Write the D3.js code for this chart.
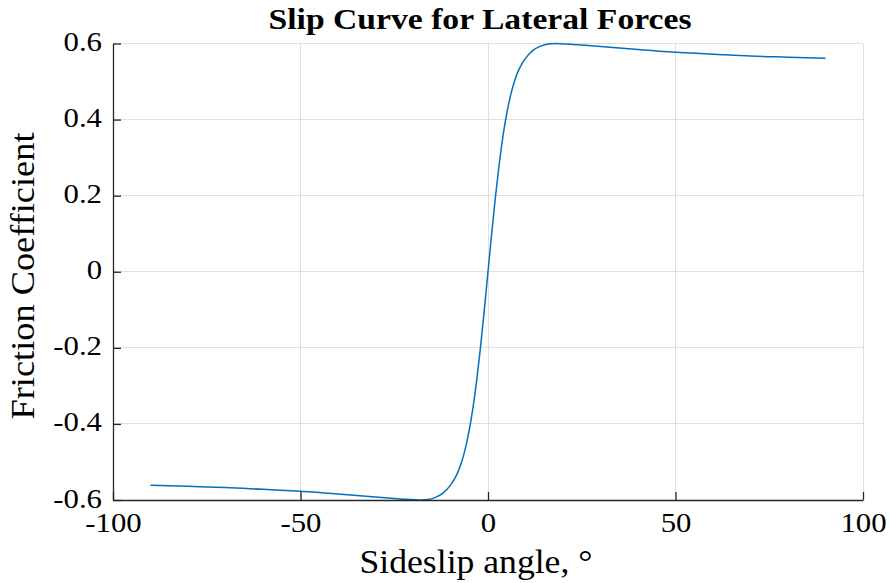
<!DOCTYPE html>
<html>
<head>
<meta charset="utf-8">
<script src="https://cdn.jsdelivr.net/npm/d3@7"></script>
<style>
  html, body { margin: 0; padding: 0; background: #ffffff; }
  svg { display: block; }
  text { font-family: "Liberation Serif", "Times New Roman", serif; fill: #000; }
</style>
</head>
<body>
<svg id="chart" width="890" height="583"></svg>
<script>
// ---- data ----
const angle = [-90, -80, -70, -60, -50, -45, -40, -35, -30, -25, -22, -20, -18, -16, -14, -12, -10, -9, -8, -7, -6, -5, -4, -3, -2, -1,
               0, 1, 2, 3, 4, 5, 6, 7, 8, 9, 10, 12, 14, 16, 18, 20, 22, 25, 30, 35, 40, 45, 50, 60, 70, 80, 90];
const friction = [-0.561, -0.564, -0.567, -0.572, -0.577, -0.580, -0.584, -0.588, -0.592, -0.596, -0.598, -0.599, -0.600, -0.599, -0.593, -0.582, -0.561, -0.546, -0.526, -0.499, -0.463, -0.416, -0.357, -0.284, -0.198, -0.102,
                  0, 0.102, 0.198, 0.284, 0.357, 0.416, 0.463, 0.499, 0.526, 0.546, 0.561, 0.582, 0.593, 0.599, 0.600, 0.599, 0.598, 0.596, 0.592, 0.588, 0.584, 0.580, 0.577, 0.572, 0.567, 0.564, 0.561];
const xTicks = [-100, -50, 0, 50, 100];
const xTickLabels = ["-100", "-50", "0", "50", "100"];
const yTicks = [-0.6, -0.4, -0.2, 0, 0.2, 0.4, 0.6];
const yTickLabels = ["-0.6", "-0.4", "-0.2", "0", "0.2", "0.4", "0.6"];
const titleText = "Slip Curve for Lateral Forces";
const xLabelText = "Sideslip angle, \u00B0";
const yLabelText = "Friction Coefficient";

// ---- layout ----
const svg = d3.select("#chart");
const L = 113, R = 863, T = 43.5, B = 500;
const x = d3.scaleLinear().domain([-100, 100]).range([L, R]);
const y = d3.scaleLinear().domain([-0.6, 0.6]).range([B, T]);
const STRETCH = 1.14;

function stretch(sel, k) {
  sel.each(function () {
    const len = this.getComputedTextLength();
    d3.select(this).attr("textLength", len * k).attr("lengthAdjust", "spacingAndGlyphs");
  });
}

// grid
const grid = svg.append("g");
grid.selectAll("line.gx").data(xTicks).join("line")
  .attr("x1", d => x(d)).attr("x2", d => x(d))
  .attr("y1", T).attr("y2", B)
  .attr("stroke", "#dfdfdf").attr("stroke-width", 1).attr("shape-rendering", "crispEdges");
grid.selectAll("line.gy").data(yTicks).join("line")
  .attr("x1", L).attr("x2", R)
  .attr("y1", d => y(d)).attr("y2", d => y(d))
  .attr("stroke", "#dfdfdf").attr("stroke-width", 1).attr("shape-rendering", "crispEdges");

// curve
const line = d3.line()
  .x((d, i) => x(angle[i]))
  .y(d => y(d))
  .curve(d3.curveMonotoneX);
svg.append("path")
  .datum(friction)
  .attr("d", line)
  .attr("fill", "none")
  .attr("stroke", "#0072BD")
  .attr("stroke-width", 1.5);

// axes (inward ticks)
const xAxis = d3.axisBottom(x).tickValues(xTicks).tickSizeInner(-8).tickSizeOuter(0)
  .tickFormat((d, i) => xTickLabels[i]);
const gx = svg.append("g").attr("transform", `translate(0,${B})`).call(xAxis);
const yAxis = d3.axisLeft(y).tickValues(yTicks).tickSizeInner(-8).tickSizeOuter(0)
  .tickFormat((d, i) => yTickLabels[i]);
const gy = svg.append("g").attr("transform", `translate(${L},0)`).call(yAxis);

[gx, gy].forEach(g => {
  g.select(".domain").attr("stroke", "#262626").attr("stroke-width", 1.3);
  g.selectAll(".tick line").attr("stroke", "#262626").attr("stroke-width", 1.3);
  g.selectAll(".tick text")
    .style("font-family", '"Liberation Serif", serif')
    .attr("font-size", 27).attr("fill", "#000");
});
gx.selectAll(".tick text").attr("y", 32).attr("dy", 0).attr("text-anchor", "middle");
gy.selectAll(".tick text").attr("x", -11).attr("dy", 7).attr("text-anchor", "end");
gx.selectAll(".tick text").call(stretch, STRETCH);
gy.selectAll(".tick text").call(stretch, STRETCH);

// title
svg.append("text")
  .attr("x", 480).attr("y", 29)
  .attr("text-anchor", "middle")
  .attr("font-size", 30).attr("font-weight", "bold")
  .text(titleText)
  .attr("textLength", 423).attr("lengthAdjust", "spacingAndGlyphs");

// x label
svg.append("text")
  .attr("x", 476).attr("y", 573)
  .attr("text-anchor", "middle")
  .attr("font-size", 34)
  .text(xLabelText)
  .attr("textLength", 233).attr("lengthAdjust", "spacingAndGlyphs");

// y label
svg.append("text")
  .attr("transform", `translate(34,276) rotate(-90)`)
  .attr("text-anchor", "middle")
  .attr("font-size", 34)
  .text(yLabelText)
  .attr("textLength", 287).attr("lengthAdjust", "spacingAndGlyphs");
</script>
</body>
</html>
